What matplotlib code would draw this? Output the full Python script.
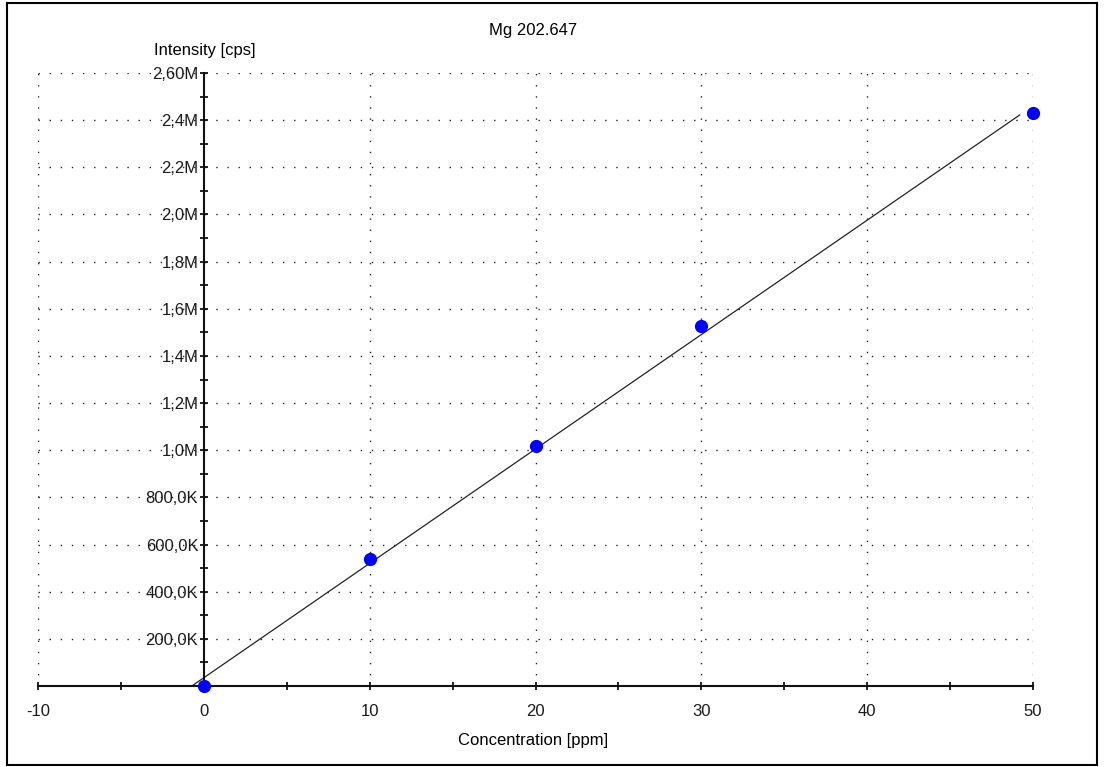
import numpy as np
import matplotlib.pyplot as plt
from matplotlib.patches import Rectangle
from matplotlib.ticker import FixedLocator, MultipleLocator

# Calibration data
conc = [0, 10, 20, 30, 50]                       # ppm
intensity = [0, 538e3, 1017e3, 1525e3, 2432e3]   # cps

y_ticks = [200e3, 400e3, 600e3, 800e3, 1.0e6, 1.2e6, 1.4e6, 1.6e6,
           1.8e6, 2.0e6, 2.2e6, 2.4e6, 2.6e6]
y_labels = ['200,0K', '400,0K', '600,0K', '800,0K', '1,0M', '1,2M', '1,4M',
            '1,6M', '1,8M', '2,0M', '2,2M', '2,4M', '2,60M']
x_ticks = [-10, 0, 10, 20, 30, 40, 50]
x_labels = ['-10', '0', '10', '20', '30', '40', '50']

plt.rcParams['font.family'] = ['Liberation Sans', 'DejaVu Sans']
fs = 12

fig = plt.figure(figsize=(11.05, 7.67), dpi=100)
W, H = 1105, 767
ax = fig.add_axes([38 / W, (H - 686) / H, (1033 - 38) / W, (686 - 73) / H])

# regression line
slope, icpt = np.polyfit(conc, intensity, 1)
xl = np.array([-0.9, 49.2])
ax.plot(xl, slope * xl + icpt, color='#222222', lw=0.9, zorder=2)

ax.plot(conc, intensity, 'o', color='#0000ff', ms=8.5, mec='#0000ff',
        clip_on=False, zorder=4)

ax.set_xlim(-10, 50)
ax.set_ylim(0, 2.6e6)

ax.spines['left'].set_position(('data', 0))
ax.spines['top'].set_visible(False)
ax.spines['right'].set_visible(False)
for s in ('left', 'bottom'):
    ax.spines[s].set_linewidth(1.5)
    ax.spines[s].set_color('#111111')
    ax.spines[s].set_zorder(3)

ax.xaxis.set_major_locator(FixedLocator(x_ticks))
ax.set_xticklabels(x_labels)
ax.xaxis.set_minor_locator(MultipleLocator(5))
ax.yaxis.set_major_locator(FixedLocator(y_ticks))
ax.set_yticklabels(y_labels)
ax.yaxis.set_minor_locator(MultipleLocator(100e3))

ax.tick_params(which='both', direction='inout', length=6, width=1.3,
               color='#111111', labelsize=fs, labelcolor='#1a1a1a')
ax.tick_params(axis='x', pad=10)
ax.tick_params(axis='y', pad=1)

# dotted grid, including the outer frame lines
dot = (0, (1, 7))
for xv in x_ticks:
    if xv != 0:
        ax.axvline(xv, color='#222222', lw=1.0, ls=dot, zorder=1)
for yv in y_ticks:
    ax.axhline(yv, color='#222222', lw=1.0, ls=dot, zorder=1)

fig.text(533 / W, 1 - 30 / H, 'Mg 202.647', ha='center', va='center', fontsize=fs)
fig.text(533 / W, 1 - 741 / H, 'Concentration [ppm]', ha='center', va='center', fontsize=fs)
fig.text(205 / W, 1 - 50 / H, 'Intensity [cps]', ha='center', va='center', fontsize=fs)

fig.patches.append(Rectangle((7 / W, 2 / H), (1097 - 7) / W, (764 - 2) / H,
                             transform=fig.transFigure, fill=False,
                             edgecolor='black', lw=1.5))

fig.savefig('out.png', dpi=100)
